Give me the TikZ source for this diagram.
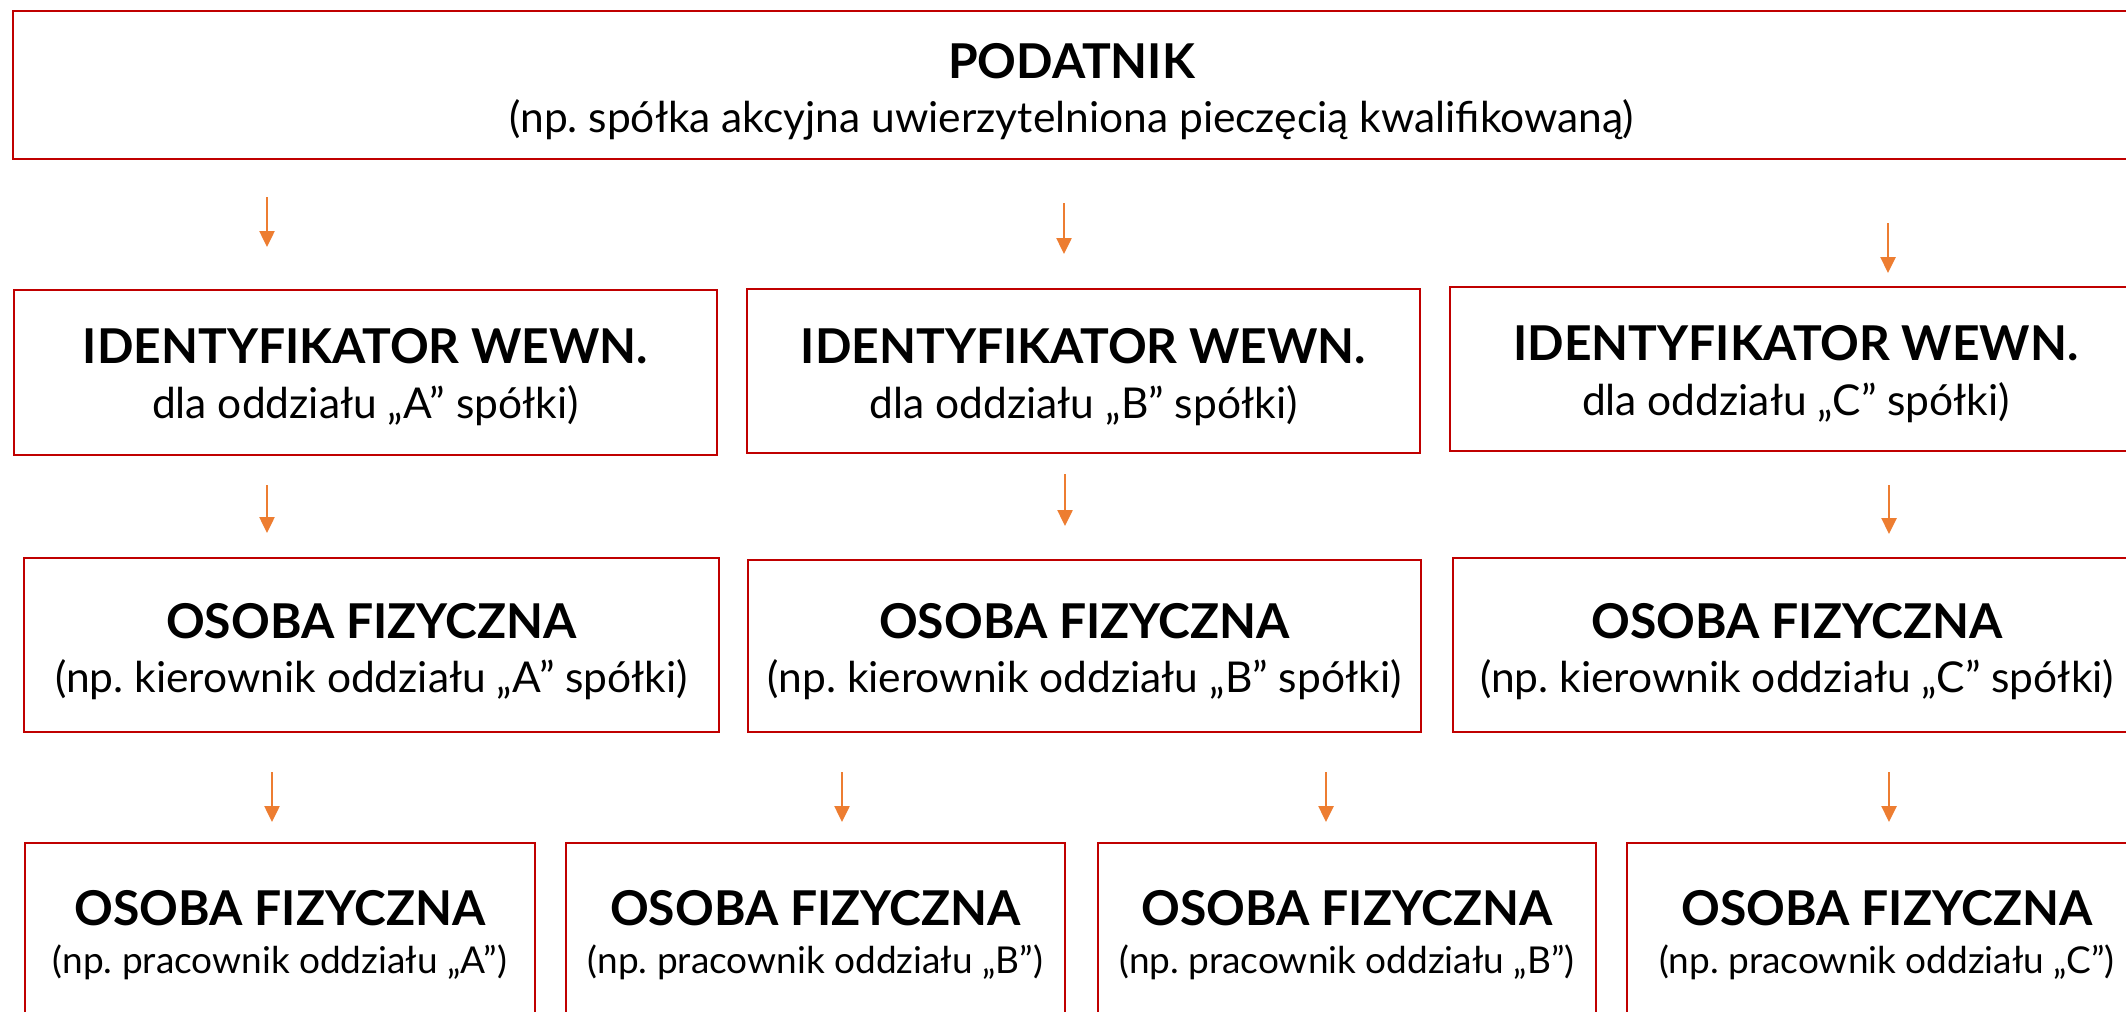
\documentclass[tikz,border=0pt]{standalone}
\usepackage{fontspec}
\setmainfont{Lato}
\usetikzlibrary{arrows.meta}
\definecolor{boxred}{HTML}{C00000}
\definecolor{arrorange}{HTML}{ED7D31}
\begin{document}
\frenchspacing
\begin{tikzpicture}[x=1pt,y=-1pt,
  box/.style={draw=boxred, line width=2.5pt, inner sep=0pt, outer sep=0pt, rectangle},
  ttl/.style={anchor=base, inner sep=0pt, font=\fontsize{48}{48}\selectfont\bfseries},
  sub/.style={anchor=base, inner sep=0pt, font=\fontsize{42.5}{42.5}\selectfont},
  subs/.style={anchor=base, inner sep=0pt, font=\fontsize{37}{37}\selectfont},
  arr/.style={draw=arrorange, line width=2.5pt, -{Triangle[length=16pt,width=15pt]}}]
\clip (0,0) rectangle (2126,1012);
\fill[white] (0,0) rectangle (2126,1012);
% boxes
\node[box, minimum width=2117pt, minimum height=148pt] (T) at (1071.5,85) {};
\node[box, minimum width=703pt, minimum height=165pt] (IA) at (365.5,372.5) {};
\node[box, minimum width=673pt, minimum height=164pt] (IB) at (1083.5,371) {};
\node[box, minimum width=692pt, minimum height=164pt] (IC) at (1796,369) {};
\node[box, minimum width=695pt, minimum height=174pt] (KA) at (371.5,645) {};
\node[box, minimum width=673pt, minimum height=172pt] (KB) at (1084.5,646) {};
\node[box, minimum width=688pt, minimum height=174pt] (KC) at (1797,645) {};
\node[box, minimum width=510pt, minimum height=180pt] (PA) at (280,933) {};
\node[box, minimum width=499pt, minimum height=180pt] (PB) at (815.5,933) {};
\node[box, minimum width=498pt, minimum height=180pt] (PC) at (1347,933) {};
\node[box, minimum width=520pt, minimum height=180pt] (PD) at (1887,933) {};
% texts
\node[ttl] (Tt) at (T.center |- 0,78) {PODATNIK};
\node[sub] (Ts) at (T.center |- 0,132) {(np. spółka akcyjna uwierzytelniona pieczęcią kwalifikowaną)};
\node[ttl] (IAt) at (IA.center |- 0,363) {IDENTYFIKATOR WEWN.};
\node[sub] (IAs) at (IA.center |- 0,418) {dla oddziału „A” spółki)};
\node[ttl] (IBt) at (IB.center |- 0,363) {IDENTYFIKATOR WEWN.};
\node[sub] (IBs) at (IB.center |- 0,418) {dla oddziału „B” spółki)};
\node[ttl] (ICt) at (IC.center |- 0,360) {IDENTYFIKATOR WEWN.};
\node[sub] (ICs) at (IC.center |- 0,415) {dla oddziału „C” spółki)};
\node[ttl] (KAt) at (KA.center |- 0,638) {OSOBA FIZYCZNA};
\node[sub] (KAs) at (KA.center |- 0,692) {(np. kierownik oddziału „A” spółki)};
\node[ttl] (KBt) at (KB.center |- 0,638) {OSOBA FIZYCZNA};
\node[sub] (KBs) at (KB.center |- 0,692) {(np. kierownik oddziału „B” spółki)};
\node[ttl] (KCt) at (KC.center |- 0,638) {OSOBA FIZYCZNA};
\node[sub] (KCs) at (KC.center |- 0,692) {(np. kierownik oddziału „C” spółki)};
\node[ttl] (PAt) at (PA.center |- 0,925) {OSOBA FIZYCZNA};
\node[subs] (PAs) at (PA.center |- 0,973) {(np. pracownik oddziału „A”)};
\node[ttl] (PBt) at (PB.center |- 0,925) {OSOBA FIZYCZNA};
\node[subs] (PBs) at (PB.center |- 0,973) {(np. pracownik oddziału „B”)};
\node[ttl] (PCt) at (PC.center |- 0,925) {OSOBA FIZYCZNA};
\node[subs] (PCs) at (PC.center |- 0,973) {(np. pracownik oddziału „B”)};
\node[ttl] (PDt) at (PD.center |- 0,925) {OSOBA FIZYCZNA};
\node[subs] (PDs) at (PD.center |- 0,973) {(np. pracownik oddziału „C”)};
% arrow end points
\coordinate (a1s) at (267,197);  \coordinate (a1e) at (267,247);
\coordinate (a2s) at (1064,203); \coordinate (a2e) at (1064,254);
\coordinate (a3s) at (1888,223); \coordinate (a3e) at (1888,273);
\coordinate (b1s) at (267,485);  \coordinate (b1e) at (267,533);
\coordinate (b2s) at (1065,474); \coordinate (b2e) at (1065,526);
\coordinate (b3s) at (1889,485); \coordinate (b3e) at (1889,534);
\coordinate (c1s) at (272,772);  \coordinate (c1e) at (272,822);
\coordinate (c2s) at (842,772);  \coordinate (c2e) at (842,822);
\coordinate (c3s) at (1326,772); \coordinate (c3e) at (1326,822);
\coordinate (c4s) at (1889,772); \coordinate (c4e) at (1889,822);
\foreach \p in {a1,a2,a3,b1,b2,b3,c1,c2,c3,c4} \draw[arr] (\p s) -- (\p e);
\end{tikzpicture}
\end{document}
